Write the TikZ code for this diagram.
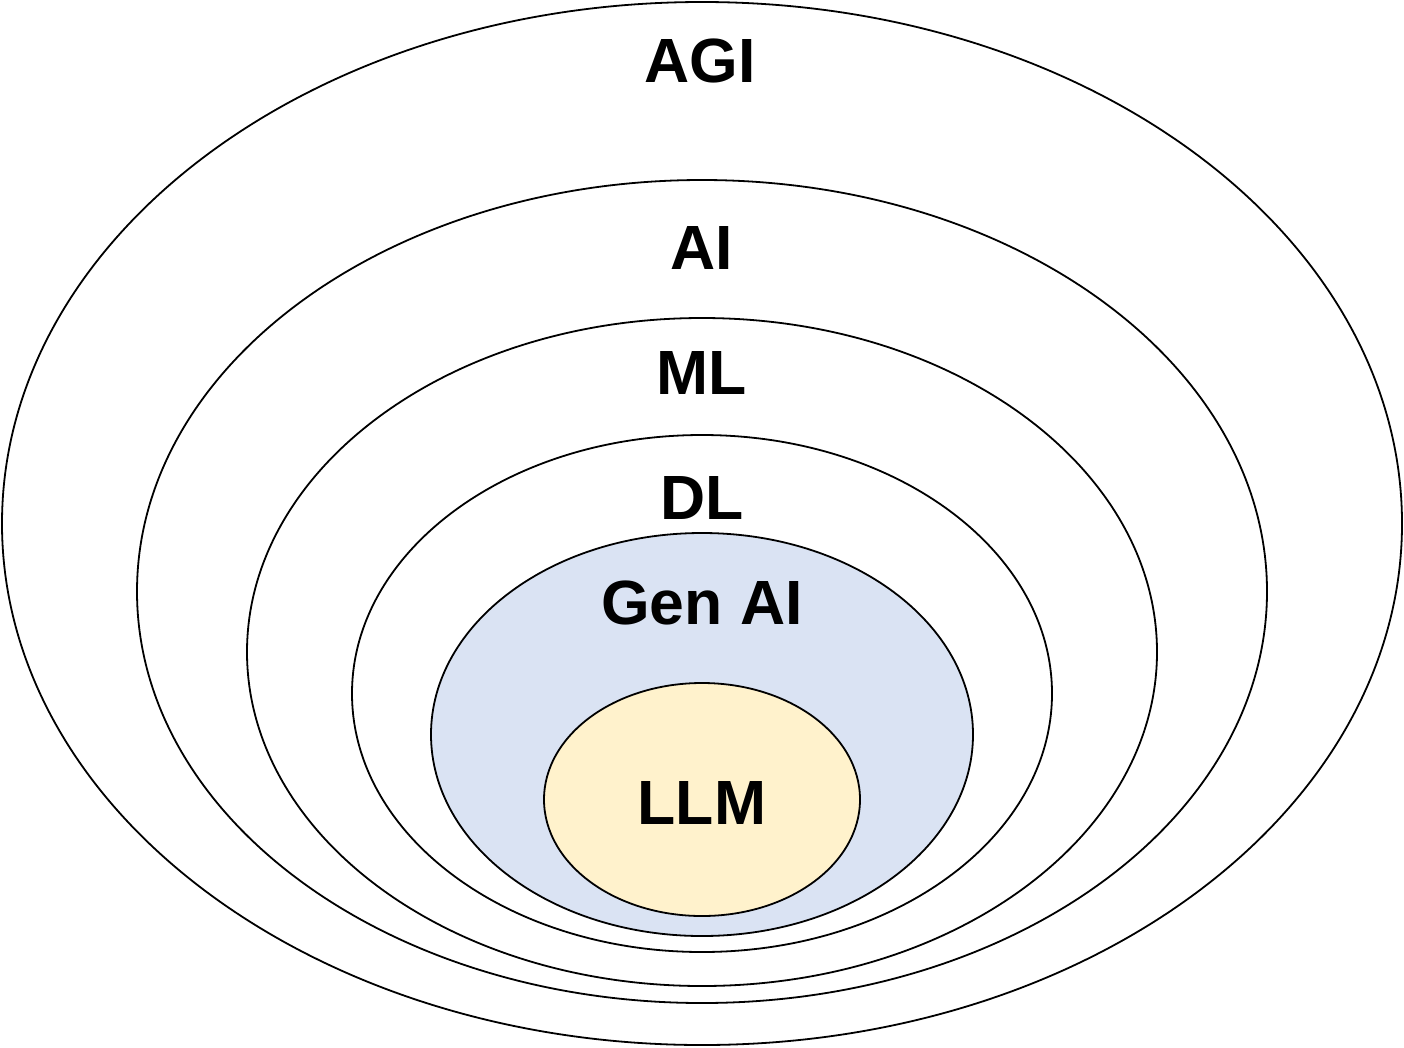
\documentclass[tikz,border=0pt]{standalone}
\usepackage{fontspec}
\setmainfont{Liberation Sans}
\begin{document}
\begin{tikzpicture}[x=1pt,y=-1pt,
  ring/.style={draw=black,line width=1.8pt},
  lbl/.style={inner sep=0pt,font=\fontsize{62.5}{70}\selectfont\bfseries}]
\useasboundingbox (0,0) rectangle (1404,1047);
\definecolor{genblue}{HTML}{DAE3F3}
\definecolor{llmyel}{HTML}{FFF2CC}
\draw[ring,fill=white] (702,523.5) ellipse [x radius=700,y radius=521.5];
\draw[ring] (702,591.5) ellipse [x radius=565,y radius=411.5];
\draw[ring] (702,652) ellipse [x radius=455,y radius=334];
\draw[ring] (702,693.5) ellipse [x radius=350,y radius=258.5];
\draw[ring,fill=genblue] (702,734.5) ellipse [x radius=271,y radius=201.5];
\draw[ring,fill=llmyel] (702,799.5) ellipse [x radius=158,y radius=116.5];
\node[lbl] (agi) at (700,61) {AGI};
\node[lbl] (ai) at (702,248) {AI};
\node[lbl] (ml) at (702,373) {ML};
\node[lbl] (dl) at (702,498) {DL};
\node[lbl] (gen) at (702,603) {Gen AI};
\node[lbl] (llm) at (702,803) {LLM};
\end{tikzpicture}
\end{document}
